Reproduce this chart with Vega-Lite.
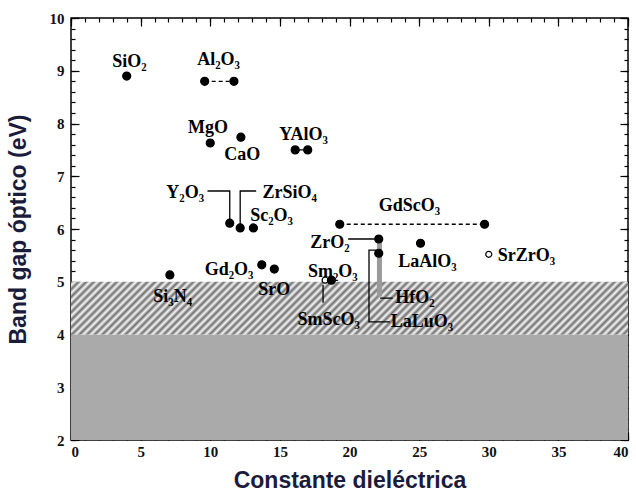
{
  "$schema": "https://vega.github.io/schema/vega-lite/v6.json",
  "width": 557,
  "height": 422,
  "autosize": "none",
  "padding": {"left": 71, "top": 18, "right": 8, "bottom": 57},
  "background": "white",
  "config": {
    "view": {"stroke": "black", "strokeWidth": 1.5},
    "axis": {
      "domain": false,
      "grid": false,
      "tickColor": "black",
      "tickWidth": 1.2,
      "labelFont": "Liberation Serif",
      "labelFontSize": 15,
      "labelFontWeight": "bold",
      "labelColor": "#111111",
      "titleFont": "Liberation Sans",
      "titleFontWeight": "bold",
      "titleFontSize": 23,
      "titleColor": "#1b1b3c"
    }
  },
  "datasets": {
    "zones": [
      {"xlo": 0, "xhi": 40, "ylo": 4, "yhi": 5, "zona": "franja"},
      {"xlo": 0, "xhi": 40, "ylo": 2, "yhi": 4, "zona": "densa"}
    ],
    "bar": [{"x": 22.15, "ylo": 4.72, "yhi": 5.75}],
    "lines": [
      {"id": "Al2O3", "ord": 1, "x": 9.6, "y": 8.8, "style": "dashed"},
      {"id": "Al2O3", "ord": 2, "x": 11.7, "y": 8.8, "style": "dashed"},
      {"id": "YAlO3", "ord": 1, "x": 16.1, "y": 7.5, "style": "solid"},
      {"id": "YAlO3", "ord": 2, "x": 17.0, "y": 7.5, "style": "solid"},
      {"id": "GdScO3", "ord": 1, "x": 19.3, "y": 6.09, "style": "dashed"},
      {"id": "GdScO3", "ord": 2, "x": 29.7, "y": 6.09, "style": "dashed"},
      {"id": "Y2O3", "ord": 1, "x": 9.8, "y": 6.72, "style": "solid"},
      {"id": "Y2O3", "ord": 2, "x": 11.4, "y": 6.72, "style": "solid"},
      {"id": "Y2O3", "ord": 3, "x": 11.4, "y": 6.15, "style": "solid"},
      {"id": "ZrSiO4", "ord": 1, "x": 13.3, "y": 6.72, "style": "solid"},
      {"id": "ZrSiO4", "ord": 2, "x": 12.15, "y": 6.72, "style": "solid"},
      {"id": "ZrSiO4", "ord": 3, "x": 12.15, "y": 6.06, "style": "solid"},
      {"id": "ZrO2", "ord": 1, "x": 19.9, "y": 5.81, "style": "solid"},
      {"id": "ZrO2", "ord": 2, "x": 21.8, "y": 5.81, "style": "solid"},
      {"id": "LaLuO3", "ord": 1, "x": 21.9, "y": 5.6, "style": "solid"},
      {"id": "LaLuO3", "ord": 2, "x": 21.4, "y": 5.6, "style": "solid"},
      {"id": "LaLuO3", "ord": 3, "x": 21.4, "y": 4.24, "style": "solid"},
      {"id": "LaLuO3", "ord": 4, "x": 22.9, "y": 4.24, "style": "solid"},
      {"id": "HfO2", "ord": 1, "x": 22.2, "y": 4.69, "style": "solid"},
      {"id": "HfO2", "ord": 2, "x": 23.1, "y": 4.69, "style": "solid"},
      {"id": "SmScO3", "ord": 1, "x": 18.1, "y": 4.94, "style": "solid"},
      {"id": "SmScO3", "ord": 2, "x": 18.1, "y": 4.6, "style": "solid"}
    ],
    "points": [
      {"material": "SiO2", "k": 4.0, "eg": 8.9, "tipo": "lleno"},
      {"material": "Al2O3", "k": 9.6, "eg": 8.8, "tipo": "lleno"},
      {"material": "Al2O3", "k": 11.7, "eg": 8.8, "tipo": "lleno"},
      {"material": "MgO", "k": 10.0, "eg": 7.63, "tipo": "lleno"},
      {"material": "CaO", "k": 12.2, "eg": 7.74, "tipo": "lleno"},
      {"material": "YAlO3", "k": 16.1, "eg": 7.5, "tipo": "lleno"},
      {"material": "YAlO3", "k": 17.0, "eg": 7.5, "tipo": "lleno"},
      {"material": "Y2O3", "k": 11.4, "eg": 6.11, "tipo": "lleno"},
      {"material": "ZrSiO4", "k": 12.15, "eg": 6.02, "tipo": "lleno"},
      {"material": "Sc2O3", "k": 13.1, "eg": 6.02, "tipo": "lleno"},
      {"material": "GdScO3", "k": 19.3, "eg": 6.09, "tipo": "lleno"},
      {"material": "GdScO3", "k": 29.7, "eg": 6.09, "tipo": "lleno"},
      {"material": "ZrO2", "k": 22.1, "eg": 5.81, "tipo": "lleno"},
      {"material": "LaLuO3", "k": 22.1, "eg": 5.54, "tipo": "lleno"},
      {"material": "LaAlO3", "k": 25.1, "eg": 5.73, "tipo": "lleno"},
      {"material": "SrZrO3", "k": 30.0, "eg": 5.52, "tipo": "vacio"},
      {"material": "Si3N4", "k": 7.1, "eg": 5.13, "tipo": "lleno"},
      {"material": "Gd2O3", "k": 13.7, "eg": 5.32, "tipo": "lleno"},
      {"material": "SrO", "k": 14.6, "eg": 5.24, "tipo": "lleno"},
      {"material": "SmScO3", "k": 18.25, "eg": 5.03, "tipo": "vacio"},
      {"material": "Sm2O3", "k": 18.7, "eg": 5.03, "tipo": "lleno"}
    ],
    "labels": [
      {"label": "SiO₂", "lx": 4.2, "ly": 9.17},
      {"label": "Al₂O₃", "lx": 10.6, "ly": 9.2},
      {"label": "MgO", "lx": 9.84, "ly": 7.91},
      {"label": "CaO", "lx": 12.3, "ly": 7.4},
      {"label": "YAlO₃", "lx": 16.7, "ly": 7.78},
      {"label": "Y₂O₃", "lx": 8.2, "ly": 6.68},
      {"label": "ZrSiO₄", "lx": 15.7, "ly": 6.68},
      {"label": "Sc₂O₃", "lx": 14.4, "ly": 6.25},
      {"label": "GdScO₃", "lx": 24.3, "ly": 6.43},
      {"label": "ZrO₂", "lx": 18.6, "ly": 5.73},
      {"label": "LaAlO₃", "lx": 25.6, "ly": 5.37},
      {"label": "SrZrO₃", "lx": 32.7, "ly": 5.49},
      {"label": "Si₃N₄", "lx": 7.3, "ly": 4.71},
      {"label": "Gd₂O₃", "lx": 11.35, "ly": 5.22},
      {"label": "SrO", "lx": 14.6, "ly": 4.84},
      {"label": "Sm₂O₃", "lx": 18.8, "ly": 5.18},
      {"label": "HfO₂", "lx": 24.7, "ly": 4.69},
      {"label": "SmScO₃", "lx": 18.5, "ly": 4.27},
      {"label": "LaLuO₃", "lx": 25.2, "ly": 4.24}
    ]
  },
  "layer": [
    {
      "data": {"name": "zones"},
      "transform": [{"filter": "datum.zona === 'densa'"}],
      "mark": {"type": "rect", "fill": "#aaaaaa"},
      "encoding": {
        "x": {"field": "xlo", "type": "quantitative", "scale": {"domain": [0, 40], "nice": false, "zero": false},
          "axis": {"orient": "bottom", "values": [0, 5, 10, 15, 20, 25, 30, 35, 40], "tickSize": -8, "labelPadding": 12, "title": "Constante dieléctrica", "titlePadding": 10}},
        "x2": {"field": "xhi"},
        "y": {"field": "ylo", "type": "quantitative", "scale": {"domain": [2, 10], "nice": false, "zero": false},
          "axis": {"orient": "left", "values": [2, 3, 4, 5, 6, 7, 8, 9, 10], "tickSize": -8, "labelPadding": 15, "title": "Band gap óptico (eV)", "titlePadding": 19}},
        "y2": {"field": "yhi"}
      }
    },
    {
      "data": {"name": "zones"},
      "transform": [{"filter": "datum.zona === 'franja'"}],
      "mark": {"type": "rect", "fill": {"gradient": "linear", "x1": 0, "y1": 0, "x2": 1.09, "y2": 0.1032, "stops": [
        {"offset": 0, "color": "#707070"}, {"offset": 0.00625, "color": "#f6f6f6"}, {"offset": 0.0125, "color": "#707070"}, {"offset": 0.01875, "color": "#f6f6f6"},
        {"offset": 0.025, "color": "#707070"}, {"offset": 0.03125, "color": "#f6f6f6"}, {"offset": 0.0375, "color": "#707070"}, {"offset": 0.04375, "color": "#f6f6f6"},
        {"offset": 0.05, "color": "#707070"}, {"offset": 0.05625, "color": "#f6f6f6"}, {"offset": 0.0625, "color": "#707070"}, {"offset": 0.06875, "color": "#f6f6f6"},
        {"offset": 0.075, "color": "#707070"}, {"offset": 0.08125, "color": "#f6f6f6"}, {"offset": 0.0875, "color": "#707070"}, {"offset": 0.09375, "color": "#f6f6f6"},
        {"offset": 0.1, "color": "#707070"}, {"offset": 0.10625, "color": "#f6f6f6"}, {"offset": 0.1125, "color": "#707070"}, {"offset": 0.11875, "color": "#f6f6f6"},
        {"offset": 0.125, "color": "#707070"}, {"offset": 0.13125, "color": "#f6f6f6"}, {"offset": 0.1375, "color": "#707070"}, {"offset": 0.14375, "color": "#f6f6f6"},
        {"offset": 0.15, "color": "#707070"}, {"offset": 0.15625, "color": "#f6f6f6"}, {"offset": 0.1625, "color": "#707070"}, {"offset": 0.16875, "color": "#f6f6f6"},
        {"offset": 0.175, "color": "#707070"}, {"offset": 0.18125, "color": "#f6f6f6"}, {"offset": 0.1875, "color": "#707070"}, {"offset": 0.19375, "color": "#f6f6f6"},
        {"offset": 0.2, "color": "#707070"}, {"offset": 0.20625, "color": "#f6f6f6"}, {"offset": 0.2125, "color": "#707070"}, {"offset": 0.21875, "color": "#f6f6f6"},
        {"offset": 0.225, "color": "#707070"}, {"offset": 0.23125, "color": "#f6f6f6"}, {"offset": 0.2375, "color": "#707070"}, {"offset": 0.24375, "color": "#f6f6f6"},
        {"offset": 0.25, "color": "#707070"}, {"offset": 0.25625, "color": "#f6f6f6"}, {"offset": 0.2625, "color": "#707070"}, {"offset": 0.26875, "color": "#f6f6f6"},
        {"offset": 0.275, "color": "#707070"}, {"offset": 0.28125, "color": "#f6f6f6"}, {"offset": 0.2875, "color": "#707070"}, {"offset": 0.29375, "color": "#f6f6f6"},
        {"offset": 0.3, "color": "#707070"}, {"offset": 0.30625, "color": "#f6f6f6"}, {"offset": 0.3125, "color": "#707070"}, {"offset": 0.31875, "color": "#f6f6f6"},
        {"offset": 0.325, "color": "#707070"}, {"offset": 0.33125, "color": "#f6f6f6"}, {"offset": 0.3375, "color": "#707070"}, {"offset": 0.34375, "color": "#f6f6f6"},
        {"offset": 0.35, "color": "#707070"}, {"offset": 0.35625, "color": "#f6f6f6"}, {"offset": 0.3625, "color": "#707070"}, {"offset": 0.36875, "color": "#f6f6f6"},
        {"offset": 0.375, "color": "#707070"}, {"offset": 0.38125, "color": "#f6f6f6"}, {"offset": 0.3875, "color": "#707070"}, {"offset": 0.39375, "color": "#f6f6f6"},
        {"offset": 0.4, "color": "#707070"}, {"offset": 0.40625, "color": "#f6f6f6"}, {"offset": 0.4125, "color": "#707070"}, {"offset": 0.41875, "color": "#f6f6f6"},
        {"offset": 0.425, "color": "#707070"}, {"offset": 0.43125, "color": "#f6f6f6"}, {"offset": 0.4375, "color": "#707070"}, {"offset": 0.44375, "color": "#f6f6f6"},
        {"offset": 0.45, "color": "#707070"}, {"offset": 0.45625, "color": "#f6f6f6"}, {"offset": 0.4625, "color": "#707070"}, {"offset": 0.46875, "color": "#f6f6f6"},
        {"offset": 0.475, "color": "#707070"}, {"offset": 0.48125, "color": "#f6f6f6"}, {"offset": 0.4875, "color": "#707070"}, {"offset": 0.49375, "color": "#f6f6f6"},
        {"offset": 0.5, "color": "#707070"}, {"offset": 0.50625, "color": "#f6f6f6"}, {"offset": 0.5125, "color": "#707070"}, {"offset": 0.51875, "color": "#f6f6f6"},
        {"offset": 0.525, "color": "#707070"}, {"offset": 0.53125, "color": "#f6f6f6"}, {"offset": 0.5375, "color": "#707070"}, {"offset": 0.54375, "color": "#f6f6f6"},
        {"offset": 0.55, "color": "#707070"}, {"offset": 0.55625, "color": "#f6f6f6"}, {"offset": 0.5625, "color": "#707070"}, {"offset": 0.56875, "color": "#f6f6f6"},
        {"offset": 0.575, "color": "#707070"}, {"offset": 0.58125, "color": "#f6f6f6"}, {"offset": 0.5875, "color": "#707070"}, {"offset": 0.59375, "color": "#f6f6f6"},
        {"offset": 0.6, "color": "#707070"}, {"offset": 0.60625, "color": "#f6f6f6"}, {"offset": 0.6125, "color": "#707070"}, {"offset": 0.61875, "color": "#f6f6f6"},
        {"offset": 0.625, "color": "#707070"}, {"offset": 0.63125, "color": "#f6f6f6"}, {"offset": 0.6375, "color": "#707070"}, {"offset": 0.64375, "color": "#f6f6f6"},
        {"offset": 0.65, "color": "#707070"}, {"offset": 0.65625, "color": "#f6f6f6"}, {"offset": 0.6625, "color": "#707070"}, {"offset": 0.66875, "color": "#f6f6f6"},
        {"offset": 0.675, "color": "#707070"}, {"offset": 0.68125, "color": "#f6f6f6"}, {"offset": 0.6875, "color": "#707070"}, {"offset": 0.69375, "color": "#f6f6f6"},
        {"offset": 0.7, "color": "#707070"}, {"offset": 0.70625, "color": "#f6f6f6"}, {"offset": 0.7125, "color": "#707070"}, {"offset": 0.71875, "color": "#f6f6f6"},
        {"offset": 0.725, "color": "#707070"}, {"offset": 0.73125, "color": "#f6f6f6"}, {"offset": 0.7375, "color": "#707070"}, {"offset": 0.74375, "color": "#f6f6f6"},
        {"offset": 0.75, "color": "#707070"}, {"offset": 0.75625, "color": "#f6f6f6"}, {"offset": 0.7625, "color": "#707070"}, {"offset": 0.76875, "color": "#f6f6f6"},
        {"offset": 0.775, "color": "#707070"}, {"offset": 0.78125, "color": "#f6f6f6"}, {"offset": 0.7875, "color": "#707070"}, {"offset": 0.79375, "color": "#f6f6f6"},
        {"offset": 0.8, "color": "#707070"}, {"offset": 0.80625, "color": "#f6f6f6"}, {"offset": 0.8125, "color": "#707070"}, {"offset": 0.81875, "color": "#f6f6f6"},
        {"offset": 0.825, "color": "#707070"}, {"offset": 0.83125, "color": "#f6f6f6"}, {"offset": 0.8375, "color": "#707070"}, {"offset": 0.84375, "color": "#f6f6f6"},
        {"offset": 0.85, "color": "#707070"}, {"offset": 0.85625, "color": "#f6f6f6"}, {"offset": 0.8625, "color": "#707070"}, {"offset": 0.86875, "color": "#f6f6f6"},
        {"offset": 0.875, "color": "#707070"}, {"offset": 0.88125, "color": "#f6f6f6"}, {"offset": 0.8875, "color": "#707070"}, {"offset": 0.89375, "color": "#f6f6f6"},
        {"offset": 0.9, "color": "#707070"}, {"offset": 0.90625, "color": "#f6f6f6"}, {"offset": 0.9125, "color": "#707070"}, {"offset": 0.91875, "color": "#f6f6f6"},
        {"offset": 0.925, "color": "#707070"}, {"offset": 0.93125, "color": "#f6f6f6"}, {"offset": 0.9375, "color": "#707070"}, {"offset": 0.94375, "color": "#f6f6f6"},
        {"offset": 0.95, "color": "#707070"}, {"offset": 0.95625, "color": "#f6f6f6"}, {"offset": 0.9625, "color": "#707070"}, {"offset": 0.96875, "color": "#f6f6f6"},
        {"offset": 0.975, "color": "#707070"}, {"offset": 0.98125, "color": "#f6f6f6"}, {"offset": 0.9875, "color": "#707070"}, {"offset": 0.99375, "color": "#f6f6f6"},
        {"offset": 1, "color": "#707070"}
      ]}},
      "encoding": {
        "x": {"field": "xlo", "type": "quantitative", "axis": null},
        "x2": {"field": "xhi"},
        "y": {"field": "ylo", "type": "quantitative", "axis": null},
        "y2": {"field": "yhi"}
      }
    },
    {
      "data": {"name": "bar"},
      "mark": {"type": "rule", "strokeWidth": 5, "color": "#9a9a9a"},
      "encoding": {
        "x": {"field": "x", "type": "quantitative",
          "axis": {"orient": "bottom", "values": [0,1,2,3,4,5,6,7,8,9,10,11,12,13,14,15,16,17,18,19,20,21,22,23,24,25,26,27,28,29,30,31,32,33,34,35,36,37,38,39,40], "tickSize": -4, "labels": false, "title": null}},
        "y": {"field": "ylo", "type": "quantitative",
          "axis": {"orient": "left", "values": [2,2.2,2.4,2.6,2.8,3,3.2,3.4,3.6,3.8,4,4.2,4.4,4.6,4.8,5,5.2,5.4,5.6,5.8,6,6.2,6.4,6.6,6.8,7,7.2,7.4,7.6,7.8,8,8.2,8.4,8.6,8.8,9,9.2,9.4,9.6,9.8,10], "tickSize": -4, "labels": false, "title": null}},
        "y2": {"field": "yhi"}
      }
    },
    {
      "data": {"name": "lines"},
      "mark": {"type": "line", "color": "black", "strokeWidth": 1.3},
      "encoding": {
        "x": {"field": "x", "type": "quantitative",
          "axis": {"orient": "top", "values": [0, 5, 10, 15, 20, 25, 30, 35, 40], "tickSize": -8, "labels": false, "title": null}},
        "y": {"field": "y", "type": "quantitative",
          "axis": {"orient": "right", "values": [2, 3, 4, 5, 6, 7, 8, 9, 10], "tickSize": -8, "labels": false, "title": null}},
        "detail": {"field": "id", "type": "nominal"},
        "order": {"field": "ord", "type": "quantitative"},
        "strokeDash": {"field": "style", "type": "nominal", "scale": {"domain": ["dashed", "solid"], "range": [[4, 3], [1, 0]]}, "legend": null}
      }
    },
    {
      "data": {"name": "points"},
      "mark": {"type": "point", "shape": "circle", "filled": false, "strokeWidth": 1.2, "stroke": "black", "opacity": 1, "fillOpacity": 1, "strokeOpacity": 1},
      "encoding": {
        "x": {"field": "k", "type": "quantitative",
          "axis": {"orient": "top", "values": [0,1,2,3,4,5,6,7,8,9,10,11,12,13,14,15,16,17,18,19,20,21,22,23,24,25,26,27,28,29,30,31,32,33,34,35,36,37,38,39,40], "tickSize": -4, "labels": false, "title": null}},
        "y": {"field": "eg", "type": "quantitative",
          "axis": {"orient": "right", "values": [2,2.2,2.4,2.6,2.8,3,3.2,3.4,3.6,3.8,4,4.2,4.4,4.6,4.8,5,5.2,5.4,5.6,5.8,6,6.2,6.4,6.6,6.8,7,7.2,7.4,7.6,7.8,8,8.2,8.4,8.6,8.8,9,9.2,9.4,9.6,9.8,10], "tickSize": -4, "labels": false, "title": null}},
        "fill": {"field": "tipo", "type": "nominal", "scale": {"domain": ["lleno", "vacio"], "range": ["black", "white"]}, "legend": null},
        "size": {"field": "tipo", "type": "nominal", "scale": {"domain": ["lleno", "vacio"], "range": [64, 36]}, "legend": null}
      }
    },
    {
      "data": {"name": "labels"},
      "mark": {"type": "text", "font": "Liberation Serif", "fontWeight": "bold", "fontSize": 18, "color": "black", "align": "center", "baseline": "middle"},
      "encoding": {
        "x": {"field": "lx", "type": "quantitative", "axis": null},
        "y": {"field": "ly", "type": "quantitative", "axis": null},
        "text": {"field": "label"}
      }
    }
  ],
  "resolve": {"axis": {"x": "independent", "y": "independent"}, "scale": {"fill": "independent", "size": "independent"}}
}
